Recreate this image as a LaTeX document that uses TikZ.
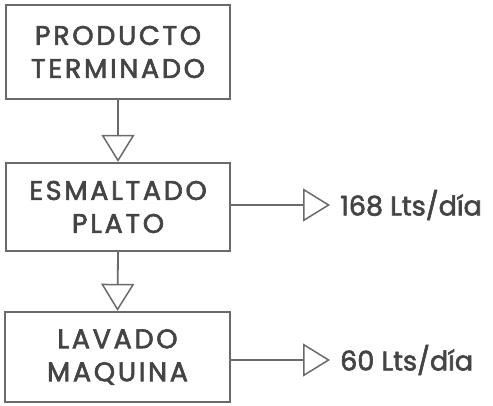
\documentclass[tikz,border=0pt]{standalone}
\usepackage{fontspec}
\setmainfont{Poppins}[FakeBold=2.3]
\newfontfamily\boxfont{Poppins}[FakeBold=2.3, LetterSpace=10]
\usetikzlibrary{arrows.meta}
\definecolor{ln}{HTML}{6A6A6A}
\definecolor{tx}{HTML}{444444}
\tikzset{
  box/.style={draw=ln, line width=2.3pt, rectangle, inner sep=0pt, text=tx,
    font=\boxfont\fontsize{27}{33}\selectfont, align=center},
  flow/.style={draw=ln, line width=1.8pt, -{Triangle[open, width=33pt, length=27pt, line width=1.5pt]}},
  lbl/.style={text=tx, font=\fontsize{27}{33}\selectfont, inner xsep=10pt, anchor=west}
}
\begin{document}
\begin{tikzpicture}[x=1pt,y=-1pt]
\useasboundingbox (0,0) rectangle (493,406);
\node[box, minimum width=224pt, minimum height=94pt] (b1) at (118,52) {PRODUCTO\\TERMINADO};
\node[box, minimum width=224pt, minimum height=88pt] (b2) at (118,207) {ESMALTADO\\PLATO};
\node[box, minimum width=225pt, minimum height=90pt] (b3) at (117.5,357) {LAVADO\\MAQUINA};
\node[lbl] (l1) at (330,205) {168 Lts/día};
\node[lbl] (l2) at (330,360) {60 Lts/día};
\draw[flow] (b1.south) -- (b2.north);
\draw[flow] (b2.south) -- (b3.north);
\draw[flow] (b2.east |- l1.west) -- (l1.west);
\draw[flow] (b3.east |- l2.west) -- (l2.west);
\end{tikzpicture}
\end{document}
